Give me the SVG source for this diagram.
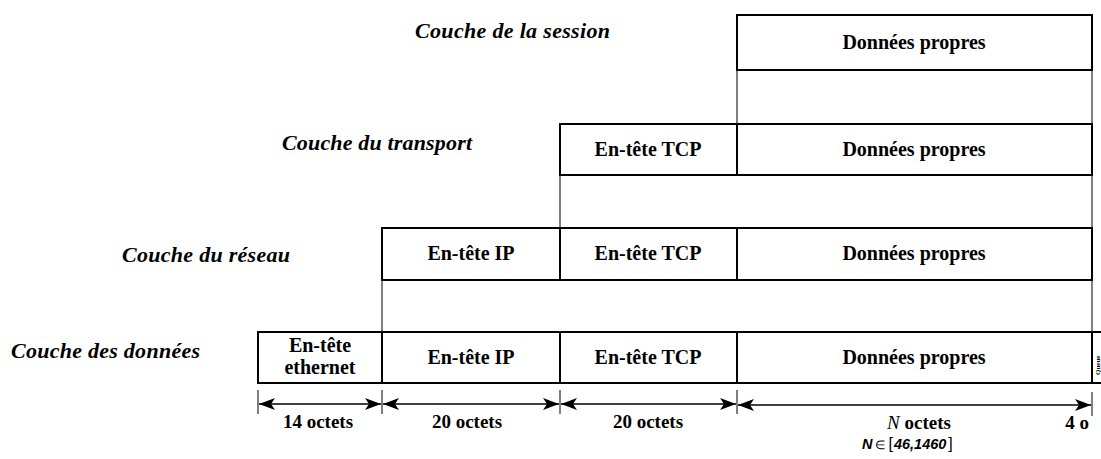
<svg xmlns="http://www.w3.org/2000/svg" width="1101" height="459" viewBox="0 0 1101 459">
<defs>
<style>
.box{fill:#fff;stroke:#000;stroke-width:2}
.bt{font-family:"Liberation Serif",serif;font-weight:bold;font-size:20px;text-anchor:middle;fill:#000}
.lay{font-family:"Liberation Serif",serif;font-weight:bold;font-style:italic;font-size:22px;fill:#000}
.dim{font-family:"Liberation Serif",serif;font-weight:bold;font-size:19px;text-anchor:middle;fill:#000}
.conn{stroke:#000;stroke-width:1;fill:none}
.dl{stroke:#000;stroke-width:1.3;fill:none}
</style>
<marker id="arr" viewBox="0 0 16 12" refX="16" refY="6" markerWidth="16" markerHeight="12" markerUnits="userSpaceOnUse" orient="auto-start-reverse">
<path d="M0,0 L16,6 L0,12 L4,6 Z" fill="#000"/>
</marker>
</defs>
<rect width="1101" height="459" fill="#fff"/>

<g id="labels">
<text class="lay" x="415" y="38" textLength="195">Couche de la session</text>
<text class="lay" x="282" y="150" textLength="190">Couche du transport</text>
<text class="lay" x="122" y="262" textLength="168">Couche du réseau</text>
<text class="lay" x="11" y="358" textLength="189">Couche des données</text>
</g>

<g id="connectors">
<line class="conn" x1="737" y1="70" x2="737" y2="124"/>
<line class="conn" x1="1092" y1="70" x2="1092" y2="124"/>
<line class="conn" x1="560" y1="175" x2="560" y2="228"/>
<line class="conn" x1="1092" y1="175" x2="1092" y2="228"/>
<line class="conn" x1="382" y1="280" x2="382" y2="332"/>
<line class="conn" x1="1092" y1="280" x2="1092" y2="332"/>
<line class="conn" x1="258" y1="390" x2="258" y2="414"/>
<line class="conn" x1="382" y1="390" x2="382" y2="414"/>
<line class="conn" x1="560" y1="390" x2="560" y2="414"/>
<line class="conn" x1="737" y1="390" x2="737" y2="414"/>
<line class="conn" x1="1092" y1="392" x2="1092" y2="416"/>
<line class="dl" x1="259" y1="404" x2="381" y2="404" marker-start="url(#arr)" marker-end="url(#arr)"/>
<line class="dl" x1="383" y1="404" x2="559" y2="404" marker-start="url(#arr)" marker-end="url(#arr)"/>
<line class="dl" x1="561" y1="404" x2="736" y2="404" marker-start="url(#arr)" marker-end="url(#arr)"/>
<line class="dl" x1="738" y1="405" x2="1091" y2="405" marker-start="url(#arr)" marker-end="url(#arr)"/>
</g>

<g id="session">
<rect class="box" x="737" y="15" width="355" height="55"/>
<text class="bt" x="914" y="49">Données propres</text>
</g>

<g id="transport">
<rect class="box" x="560" y="124" width="177" height="51"/>
<text class="bt" x="648" y="156">En-tête TCP</text>
<rect class="box" x="737" y="124" width="355" height="51"/>
<text class="bt" x="914" y="156">Données propres</text>
</g>

<g id="reseau">
<rect class="box" x="382" y="228" width="178" height="52"/>
<text class="bt" x="471" y="260">En-tête IP</text>
<rect class="box" x="560" y="228" width="177" height="52"/>
<text class="bt" x="648" y="260">En-tête TCP</text>
<rect class="box" x="737" y="228" width="355" height="52"/>
<text class="bt" x="914" y="260">Données propres</text>
</g>

<g id="donnees">
<rect class="box" x="258" y="332" width="124" height="51"/>
<text class="bt" x="320" y="352" font-size="19">En-tête</text>
<text class="bt" x="320" y="374" font-size="19">ethernet</text>
<rect class="box" x="382" y="332" width="178" height="51"/>
<text class="bt" x="471" y="364">En-tête IP</text>
<rect class="box" x="560" y="332" width="177" height="51"/>
<text class="bt" x="648" y="364">En-tête TCP</text>
<rect class="box" x="737" y="332" width="355" height="51"/>
<text class="bt" x="914" y="364">Données propres</text>
<rect class="box" x="1092" y="332" width="20" height="51"/>
<text font-family="Liberation Serif,serif" font-weight="bold" font-size="7" transform="translate(1100,375) rotate(-90)">Queue</text>
</g>

<g id="dimensions">
<text class="dim" x="318" y="428">14 octets</text>
<text class="dim" x="467" y="428">20 octets</text>
<text class="dim" x="648" y="428">20 octets</text>
<text class="dim" x="919" y="429"><tspan font-style="italic" font-weight="normal">N</tspan> octets</text>
<text x="862" y="449" font-family="Liberation Sans,sans-serif" font-weight="bold" font-style="italic" font-size="14.5"><tspan>N</tspan><tspan font-style="normal" font-weight="normal" font-size="12" dx="3">∈</tspan><tspan font-size="16" font-style="normal" font-weight="normal" dx="3">[</tspan><tspan dx="1">46,1460</tspan><tspan font-size="16" font-style="normal" font-weight="normal" dx="2">]</tspan></text>
<text class="dim" x="1077" y="429" text-anchor="start">4 o</text>
</g>
</svg>
